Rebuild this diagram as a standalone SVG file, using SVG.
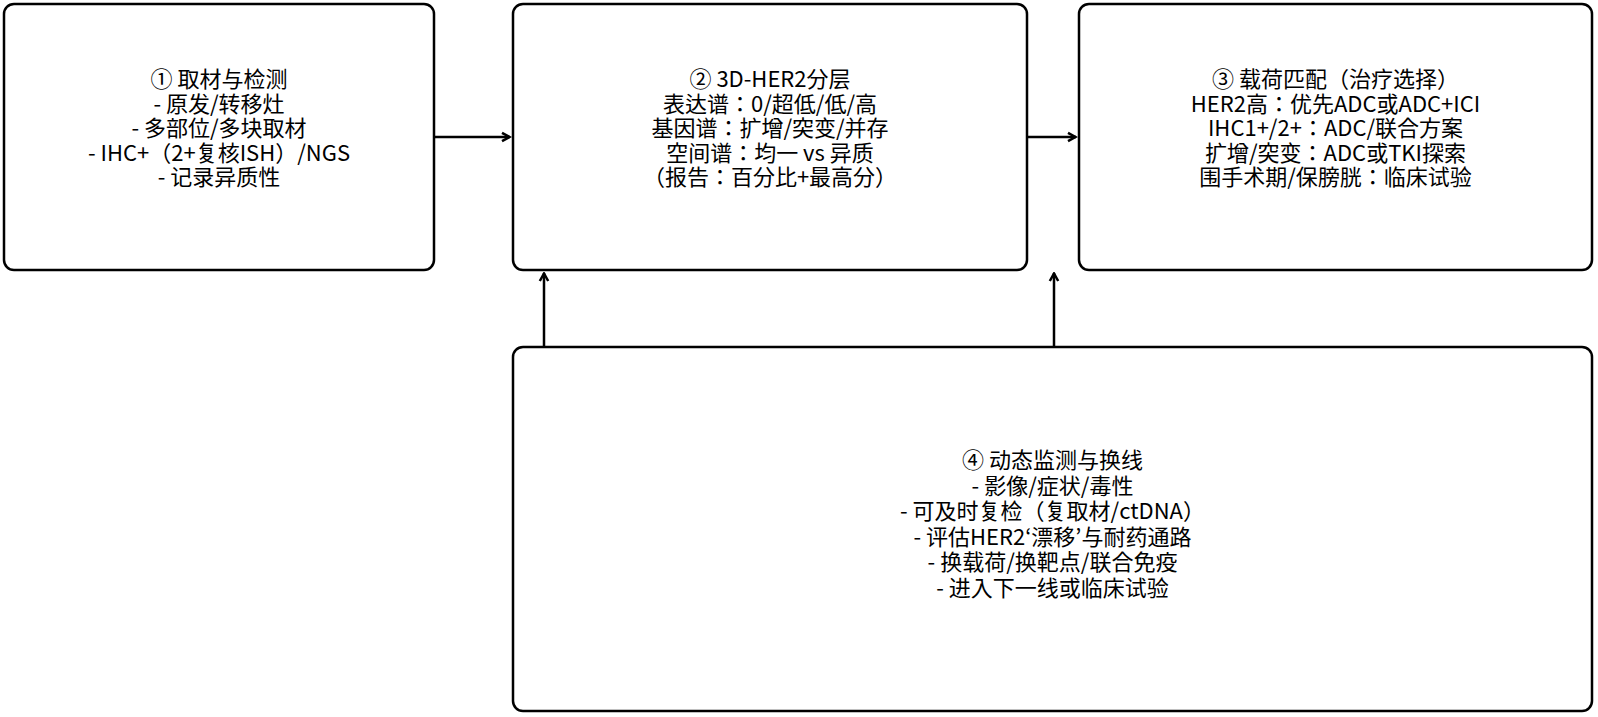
<svg xmlns="http://www.w3.org/2000/svg" width="1598" height="717" viewBox="0 0 1598 717">
<style>
.box{fill:#fff;stroke:#000;stroke-width:2.5}
.t{font-family:"Noto Sans CJK JP","Noto Sans CJK SC","Noto Sans",sans-serif;font-size:22px;fill:#000;text-anchor:middle}
.c{stroke:#000;stroke-width:2.5;fill:none}
</style>
<defs>
<marker id="ah" viewBox="0 0 12 12" refX="10.5" refY="6" markerWidth="12" markerHeight="12" markerUnits="userSpaceOnUse" orient="auto">
<path d="M2.5,1.8 L10,6 L2.5,10.2" fill="none" stroke="#000" stroke-width="2.5"/>
</marker>
</defs>
<rect width="1598" height="717" fill="#fff"/>
<g id="connectors">
<line class="c" x1="435" y1="137" x2="510" y2="137" marker-end="url(#ah)"/>
<line class="c" x1="1028" y1="137" x2="1076" y2="137" marker-end="url(#ah)"/>
<line class="c" x1="544" y1="346" x2="544" y2="273" marker-end="url(#ah)"/>
<line class="c" x1="1054" y1="346" x2="1054" y2="273" marker-end="url(#ah)"/>
</g>
<g id="node1">
<rect class="box" x="4" y="4" width="430" height="266" rx="10"/>
<text class="t"><tspan x="219" y="87">① 取材与检测</tspan><tspan x="219" y="111.5">- 原发/转移灶</tspan><tspan x="219" y="136">- 多部位/多块取材</tspan><tspan x="219" y="160.5">- IHC+（2+复核ISH）/NGS</tspan><tspan x="219" y="185">- 记录异质性</tspan></text>
</g>
<g id="node2">
<rect class="box" x="513" y="4" width="514" height="266" rx="10"/>
<text class="t"><tspan x="770" y="87">② 3D-HER2分层</tspan><tspan x="770" y="111.5">表达谱：0/超低/低/高</tspan><tspan x="770" y="136">基因谱：扩增/突变/并存</tspan><tspan x="770" y="160.5">空间谱：均一 vs 异质</tspan><tspan x="770" y="185">（报告：百分比+最高分）</tspan></text>
</g>
<g id="node3">
<rect class="box" x="1079" y="4" width="513" height="266" rx="10"/>
<text class="t"><tspan x="1335.5" y="87">③ 载荷匹配（治疗选择）</tspan><tspan x="1335.5" y="111.5">HER2高：优先ADC或ADC+ICI</tspan><tspan x="1335.5" y="136">IHC1+/2+：ADC/联合方案</tspan><tspan x="1335.5" y="160.5">扩增/突变：ADC或TKI探索</tspan><tspan x="1335.5" y="185">围手术期/保膀胱：临床试验</tspan></text>
</g>
<g id="node4">
<rect class="box" x="513" y="347" width="1079" height="364" rx="10"/>
<text class="t"><tspan x="1052.5" y="468">④ 动态监测与换线</tspan><tspan x="1052.5" y="493.5">- 影像/症状/毒性</tspan><tspan x="1052.5" y="519">- 可及时复检（复取材/ctDNA）</tspan><tspan x="1052.5" y="544.5">- 评估HER2‘漂移’与耐药通路</tspan><tspan x="1052.5" y="570">- 换载荷/换靶点/联合免疫</tspan><tspan x="1052.5" y="595.5">- 进入下一线或临床试验</tspan></text>
</g>
</svg>
